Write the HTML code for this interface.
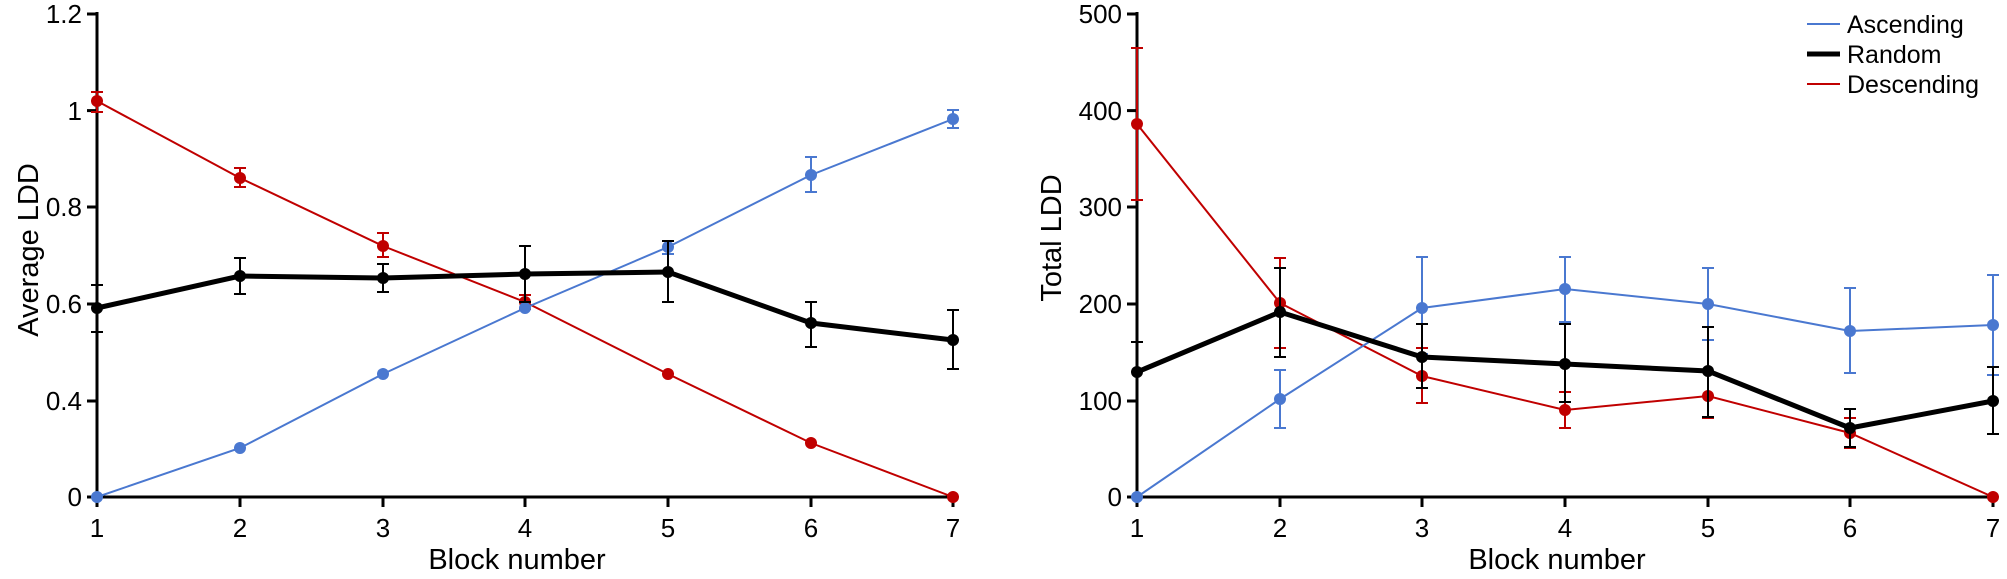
<!DOCTYPE html>
<html><head><meta charset="utf-8"><style>body{margin:0;background:#fff}</style></head><body>
<svg width="2007" height="574" xmlns="http://www.w3.org/2000/svg" font-family="Liberation Sans, sans-serif" fill="#000">
<g id="left">
<line x1="97" y1="12" x2="97" y2="499" stroke="#000" stroke-width="3"/>
<line x1="95" y1="497" x2="955" y2="497" stroke="#000" stroke-width="3"/>
<g stroke="#000" stroke-width="3">
<line x1="87" y1="14" x2="97" y2="14"/><line x1="87" y1="110.6" x2="97" y2="110.6"/><line x1="87" y1="207" x2="97" y2="207"/><line x1="87" y1="304" x2="97" y2="304"/><line x1="87" y1="401" x2="97" y2="401"/><line x1="87" y1="497" x2="97" y2="497"/>
<line x1="97" y1="497" x2="97" y2="507"/><line x1="240" y1="497" x2="240" y2="507"/><line x1="383" y1="497" x2="383" y2="507"/><line x1="525" y1="497" x2="525" y2="507"/><line x1="668" y1="497" x2="668" y2="507"/><line x1="811" y1="497" x2="811" y2="507"/><line x1="953" y1="497" x2="953" y2="507"/>
</g>
<g font-size="26" text-anchor="end">
<text x="82" y="23">1.2</text><text x="82" y="120">1</text><text x="82" y="216">0.8</text><text x="82" y="313">0.6</text><text x="82" y="410">0.4</text><text x="82" y="506">0</text>
</g>
<g font-size="26" text-anchor="middle">
<text x="97" y="537">1</text><text x="240" y="537">2</text><text x="383" y="537">3</text><text x="525" y="537">4</text><text x="668" y="537">5</text><text x="811" y="537">6</text><text x="953" y="537">7</text>
<text x="517" y="569" font-size="29">Block number</text>
<text transform="translate(38,250) rotate(-90)" font-size="29">Average LDD</text>
</g>
<!-- red -->
<g stroke="#c00000" stroke-width="2" fill="none">
<polyline points="97,101 240,178 383,246 525,302 668,374 811,443 953,497"/>
<path d="M97,92V112M91,92H103M91,112H103 M240,168V187M234,168H246M234,187H246 M383,233V257M377,233H389M377,257H389 M525,295V309M519,295H531M519,309H531"/>
</g>
<g fill="#c00000"><circle cx="97" cy="101" r="6"/><circle cx="240" cy="178" r="6"/><circle cx="383" cy="246" r="6"/><circle cx="525" cy="302" r="6"/><circle cx="668" cy="374" r="6"/><circle cx="811" cy="443" r="6"/><circle cx="953" cy="497" r="6"/></g>
<!-- blue -->
<g stroke="#4a78d0" stroke-width="2" fill="none">
<polyline points="97,497 240,448 383,374 525,308 668,247 811,175 953,119"/>
<path d="M668,241V254M662,241H674M662,254H674 M811,157V192M805,157H817M805,192H817 M953,110V128M947,110H959M947,128H959"/>
</g>
<g fill="#4a78d0"><circle cx="97" cy="497" r="6"/><circle cx="240" cy="448" r="6"/><circle cx="383" cy="374" r="6"/><circle cx="525" cy="308" r="6"/><circle cx="668" cy="247" r="6"/><circle cx="811" cy="175" r="6"/><circle cx="953" cy="119" r="6"/></g>
<!-- black -->
<g stroke="#000" fill="none">
<polyline stroke-width="5" points="97,308 240,276 383,278 525,274 668,272 811,323 953,340"/>
<path stroke-width="2" d="M97,285V332M91,285H103M91,332H103 M240,258V294M234,258H246M234,294H246 M383,264V292M377,264H389M377,292H389 M525,246V302M519,246H531M519,302H531 M668,241V302M662,241H674M662,302H674 M811,302V347M805,302H817M805,347H817 M953,310V369M947,310H959M947,369H959"/>
</g>
<g><circle cx="97" cy="308" r="6"/><circle cx="240" cy="276" r="6"/><circle cx="383" cy="278" r="6"/><circle cx="525" cy="274" r="6"/><circle cx="668" cy="272" r="6"/><circle cx="811" cy="323" r="6"/><circle cx="953" cy="340" r="6"/></g>
</g>

<g id="right">
<line x1="1137" y1="12" x2="1137" y2="499" stroke="#000" stroke-width="3"/>
<line x1="1135" y1="497" x2="1995" y2="497" stroke="#000" stroke-width="3"/>
<g stroke="#000" stroke-width="3">
<line x1="1127" y1="14" x2="1137" y2="14"/><line x1="1127" y1="110.6" x2="1137" y2="110.6"/><line x1="1127" y1="207" x2="1137" y2="207"/><line x1="1127" y1="304" x2="1137" y2="304"/><line x1="1127" y1="401" x2="1137" y2="401"/><line x1="1127" y1="497" x2="1137" y2="497"/>
<line x1="1137" y1="497" x2="1137" y2="507"/><line x1="1280" y1="497" x2="1280" y2="507"/><line x1="1422" y1="497" x2="1422" y2="507"/><line x1="1565" y1="497" x2="1565" y2="507"/><line x1="1708" y1="497" x2="1708" y2="507"/><line x1="1850" y1="497" x2="1850" y2="507"/><line x1="1993" y1="497" x2="1993" y2="507"/>
</g>
<g font-size="26" text-anchor="end">
<text x="1122" y="23">500</text><text x="1122" y="120">400</text><text x="1122" y="216">300</text><text x="1122" y="313">200</text><text x="1122" y="410">100</text><text x="1122" y="506">0</text>
</g>
<g font-size="26" text-anchor="middle">
<text x="1137" y="537">1</text><text x="1280" y="537">2</text><text x="1422" y="537">3</text><text x="1565" y="537">4</text><text x="1708" y="537">5</text><text x="1850" y="537">6</text><text x="1993" y="537">7</text>
<text x="1557" y="569" font-size="29">Block number</text>
<text transform="translate(1061,238) rotate(-90)" font-size="29">Total LDD</text>
</g>
<!-- red -->
<g stroke="#c00000" stroke-width="2" fill="none">
<polyline points="1137,124 1280,303 1422,376 1565,410 1708,396 1850,433 1993,497"/>
<path d="M1137,48V200M1131,48H1143M1131,200H1143 M1280,258V348M1274,258H1286M1274,348H1286 M1422,348V403M1416,348H1428M1416,403H1428 M1565,392V428M1559,392H1571M1559,428H1571 M1708,372V418M1702,418H1714 M1850,418V448M1844,418H1856M1844,448H1856"/>
</g>
<g fill="#c00000"><circle cx="1137" cy="124" r="6"/><circle cx="1280" cy="303" r="6"/><circle cx="1422" cy="376" r="6"/><circle cx="1565" cy="410" r="6"/><circle cx="1708" cy="396" r="6"/><circle cx="1850" cy="433" r="6"/><circle cx="1993" cy="497" r="6"/></g>
<!-- blue -->
<g stroke="#4a78d0" stroke-width="2" fill="none">
<polyline points="1137,497 1280,399 1422,308 1565,289 1708,304 1850,331 1993,325"/>
<path d="M1280,370V428M1274,370H1286M1274,428H1286 M1422,257V354M1416,257H1428M1416,354H1428 M1565,257V322M1559,257H1571M1559,322H1571 M1708,268V340M1702,268H1714M1702,340H1714 M1850,288V373M1844,288H1856M1844,373H1856 M1993,275V375M1987,275H1999M1987,375H1999"/>
</g>
<g fill="#4a78d0"><circle cx="1137" cy="497" r="6"/><circle cx="1280" cy="399" r="6"/><circle cx="1422" cy="308" r="6"/><circle cx="1565" cy="289" r="6"/><circle cx="1708" cy="304" r="6"/><circle cx="1850" cy="331" r="6"/><circle cx="1993" cy="325" r="6"/></g>
<!-- black -->
<g stroke="#000" fill="none">
<polyline stroke-width="5" points="1137,372 1280,312 1422,357 1565,364 1708,371 1850,428 1993,401"/>
<path stroke-width="2" d="M1131,342H1143 M1280,268V357M1274,268H1286M1274,357H1286 M1422,324V388M1416,324H1428M1416,388H1428 M1565,324V402M1559,324H1571M1559,402H1571 M1708,327V417M1702,327H1714M1702,417H1714 M1850,409V447M1844,409H1856M1844,447H1856 M1993,367V434M1987,367H1999M1987,434H1999"/>
</g>
<g><circle cx="1137" cy="372" r="6"/><circle cx="1280" cy="312" r="6"/><circle cx="1422" cy="357" r="6"/><circle cx="1565" cy="364" r="6"/><circle cx="1708" cy="371" r="6"/><circle cx="1850" cy="428" r="6"/><circle cx="1993" cy="401" r="6"/></g>
<!-- legend -->
<line x1="1807" y1="24" x2="1840" y2="24" stroke="#4a78d0" stroke-width="2"/>
<line x1="1807" y1="54" x2="1840" y2="54" stroke="#000" stroke-width="5"/>
<line x1="1807" y1="84" x2="1840" y2="84" stroke="#c00000" stroke-width="2"/>
<g font-size="25"><text x="1847" y="33">Ascending</text><text x="1847" y="63">Random</text><text x="1847" y="93">Descending</text></g>
</g>
</svg>
</body></html>
